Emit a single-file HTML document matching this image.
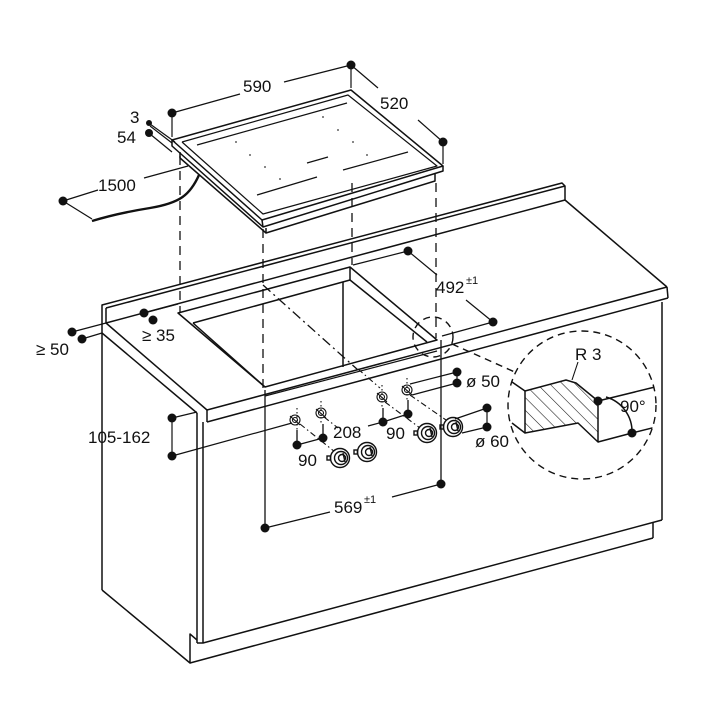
<!DOCTYPE html>
<html><head><meta charset="utf-8"><style>
html,body{margin:0;padding:0;background:#fff;}
svg{display:block}
text{font-family:"Liberation Sans",Arial,sans-serif;font-size:17px;fill:#111}
</style></head><body>
<svg width="720" height="720" viewBox="0 0 720 720" xmlns="http://www.w3.org/2000/svg">
<defs>
<pattern id="h" width="9" height="9" patternUnits="userSpaceOnUse" patternTransform="rotate(-45)">
<line x1="0" y1="0" x2="0" y2="9" stroke="#111" stroke-width="1.1"/></pattern>
<clipPath id="cc"><circle cx="582" cy="405" r="74"/></clipPath>
</defs>
<g stroke="#111" stroke-width="1.5" fill="none" stroke-linejoin="round">
<polygon points="172,140 351,90 443,166 262,220" fill="#fff"/>
<polyline points="443,166 443,171 263,227 172,146 172,140"/>
<line x1="262" y1="220" x2="263" y2="227"/>
<polyline points="182,142 348,95 437,166 263,214 182,142" stroke-width="1.2"/>
<polyline points="180,152 180,158 266,233 435,181 435,174"/>
<line x1="266" y1="228" x2="266" y2="233"/>
<line x1="197" y1="145" x2="347" y2="103" stroke-width="1.2"/>
<line x1="257" y1="195" x2="317" y2="177" stroke-width="1.2"/>
<line x1="307" y1="163" x2="328" y2="157" stroke-width="1.2"/>
<line x1="343" y1="170" x2="408" y2="152" stroke-width="1.2"/>
</g>
<g fill="#333">
<circle cx="236" cy="142" r="0.9"/><circle cx="250" cy="155" r="0.9"/><circle cx="265" cy="167" r="0.9"/><circle cx="280" cy="179" r="0.9"/>
<circle cx="323" cy="117" r="0.9"/><circle cx="338" cy="130" r="0.9"/><circle cx="353" cy="142" r="0.9"/><circle cx="367" cy="155" r="0.9"/>
</g>
<path d="M199,175 C190,195 180,203 150,208 C125,212 105,217 92,221" stroke="#111" stroke-width="2.4" fill="none"/>
<g stroke="#111" stroke-width="1.5" fill="none" stroke-linejoin="round">
<polyline points="102,590 102,305 562,183 565,186 565,200"/>
<line x1="106" y1="308" x2="565" y2="186"/>
<line x1="106" y1="308" x2="106" y2="323"/>
<line x1="106" y1="323" x2="565" y2="200"/>
<line x1="565" y1="200" x2="667" y2="287"/>
<line x1="106" y1="323" x2="207" y2="410"/>
<line x1="102" y1="333" x2="197" y2="413"/>
<line x1="207" y1="410" x2="667" y2="287"/>
<line x1="207" y1="422" x2="668" y2="298"/>
<line x1="207" y1="410" x2="207" y2="422"/>
<line x1="667" y1="287" x2="668" y2="298"/>
<polygon points="178,313 350,267 437,340 265,387"/>
<line x1="193" y1="323" x2="350" y2="280"/>
<line x1="350" y1="267" x2="350" y2="280"/>
<line x1="350" y1="280" x2="427" y2="342"/>
<line x1="343" y1="282" x2="343" y2="367"/>
<line x1="193" y1="323" x2="265" y2="387"/>
<line x1="265" y1="396" x2="437" y2="351" stroke-width="1.2"/>
<line x1="197" y1="413" x2="197" y2="643"/>
<line x1="203" y1="422" x2="203" y2="643"/>
<line x1="662" y1="302" x2="662" y2="520"/>
<polyline points="197,643 203,643 662,520"/>
<polyline points="102,590 190,663 190,634 197,640"/>
<line x1="190" y1="663" x2="653" y2="538"/>
<line x1="653" y1="523" x2="653" y2="538"/>
</g>
<g stroke="#111" stroke-width="1.3" fill="none" stroke-dasharray="9,6">
<line x1="180" y1="156" x2="180" y2="313"/>
<line x1="263" y1="229" x2="263" y2="390"/>
<line x1="352" y1="183" x2="352" y2="265"/>
<line x1="436" y1="183" x2="436" y2="338"/>
</g>
<g stroke="#111" stroke-width="1.3" fill="none">
<line x1="265" y1="390" x2="265" y2="528"/>
<line x1="441" y1="340" x2="441" y2="484"/>
<path d="M263,285 L358,370" stroke-dasharray="10,4,2,4"/>
</g>
<g stroke="#111" stroke-width="1.4" fill="none" stroke-dasharray="7,5">
<circle cx="433" cy="337" r="20"/>
<line x1="452" y1="344" x2="517" y2="373"/>
<circle cx="582" cy="405" r="74" fill="#fff"/>
</g>
<g stroke="#111" stroke-width="1.5" fill="none" stroke-linejoin="round" clip-path="url(#cc)">
<polygon points="525,391 566,380 576,383 598,401 598,442 578,423 525,433" fill="url(#h)"/>
<line x1="512" y1="382" x2="525" y2="391"/>
<line x1="512" y1="423" x2="525" y2="433"/>
<line x1="598" y1="401" x2="655" y2="387"/>
<polyline points="598,442 632,433 660,426"/>
<path d="M606,397 A36,36 0 0 1 632,433"/>
<line x1="578" y1="362" x2="572" y2="380" stroke-width="1.1"/>
</g>
<text x="575" y="360">R 3</text>
<text x="620" y="412">90°</text>
<g stroke="#111" stroke-width="1.1" fill="none">
<g stroke-dasharray="1.5,2.5">
<line x1="297" y1="408" x2="297" y2="430"/><line x1="321" y1="401" x2="321" y2="424"/>
<line x1="382" y1="385" x2="382" y2="408"/><line x1="407" y1="378" x2="407" y2="400"/>
</g>
<g stroke-dasharray="6,3,1.5,3">
<line x1="300" y1="424" x2="335" y2="452"/><line x1="324" y1="417" x2="338" y2="428"/>
<line x1="385" y1="402" x2="420" y2="428"/><line x1="410" y1="395" x2="446" y2="420"/>
<line x1="358" y1="369" x2="380" y2="388"/>
</g>
<g stroke-width="1.3">
<line x1="297" y1="430" x2="297" y2="445"/><line x1="323" y1="424" x2="323" y2="438"/>
<line x1="383" y1="408" x2="383" y2="422"/><line x1="408" y1="400" x2="408" y2="414"/>
</g>
<g id="s"><circle cx="295" cy="420" r="5"/><circle cx="295" cy="420" r="2.5"/><line x1="290" y1="416" x2="300" y2="425"/></g>
<use href="#s" x="26" y="-7"/><use href="#s" x="87" y="-23"/><use href="#s" x="112" y="-30"/>
<g id="k" stroke-width="1.4"><circle cx="340" cy="458" r="9.5" fill="#fff"/><circle cx="341" cy="458" r="6.5"/><circle cx="342" cy="458" r="3.5"/><line x1="343" y1="453" x2="345" y2="462"/><rect x="327" y="456" width="3.5" height="4"/></g>
<use href="#k" x="27" y="-6"/><use href="#k" x="87" y="-25"/><use href="#k" x="113" y="-31"/>
</g>
<g stroke="#111" stroke-width="1.2" fill="none">
<line x1="172" y1="113" x2="172" y2="137"/>
<line x1="172" y1="113" x2="240" y2="94"/><line x1="284" y1="82" x2="351" y2="65"/>
<line x1="351" y1="65" x2="351" y2="88"/>
<line x1="351" y1="65" x2="378" y2="88"/><line x1="418" y1="120" x2="443" y2="142"/>
<line x1="443" y1="142" x2="443" y2="164"/>
<line x1="150" y1="124" x2="175" y2="142"/><line x1="150" y1="126" x2="172" y2="143"/>
<line x1="150" y1="134" x2="172" y2="152"/>
<line x1="63" y1="201" x2="98" y2="190"/><line x1="144" y1="178" x2="188" y2="166"/>
<line x1="63" y1="201" x2="92" y2="219"/>
<line x1="72" y1="332" x2="106" y2="323"/><line x1="82" y1="339" x2="102" y2="333"/>
<line x1="144" y1="313" x2="178" y2="304"/>
<line x1="408" y1="251" x2="353" y2="265"/>
<line x1="408" y1="251" x2="437" y2="275"/><line x1="466" y1="300" x2="493" y2="322"/>
<line x1="493" y1="322" x2="442" y2="336"/>
<line x1="172" y1="418" x2="197" y2="412"/><line x1="172" y1="456" x2="292" y2="423"/>
<line x1="172" y1="418" x2="172" y2="456"/>
<line x1="297" y1="445" x2="323" y2="438"/>
<line x1="383" y1="422" x2="368" y2="426"/><line x1="383" y1="422" x2="408" y2="414"/>
<line x1="410" y1="384" x2="457" y2="372"/><line x1="412" y1="395" x2="457" y2="383"/>
<line x1="457" y1="372" x2="457" y2="383"/>
<line x1="455" y1="419" x2="487" y2="408"/><line x1="462" y1="433" x2="487" y2="427"/>
<line x1="487" y1="408" x2="487" y2="427"/>
<line x1="265" y1="528" x2="330" y2="512"/><line x1="392" y1="497" x2="441" y2="484"/>
</g>
<g fill="#111">
<circle cx="351" cy="65" r="4.5"/><circle cx="172" cy="113" r="4.5"/><circle cx="443" cy="142" r="4.5"/>
<circle cx="149" cy="123" r="3"/><circle cx="149" cy="133" r="4"/>
<circle cx="63" cy="201" r="4.5"/>
<circle cx="72" cy="332" r="4.5"/><circle cx="82" cy="339" r="4.5"/>
<circle cx="144" cy="313" r="4.5"/><circle cx="153" cy="320" r="4.5"/>
<circle cx="408" cy="251" r="4.5"/><circle cx="493" cy="322" r="4.5"/>
<circle cx="172" cy="418" r="4.5"/><circle cx="172" cy="456" r="4.5"/>
<circle cx="297" cy="445" r="4.5"/><circle cx="323" cy="438" r="4.5"/>
<circle cx="383" cy="422" r="4.5"/><circle cx="408" cy="414" r="4.5"/>
<circle cx="457" cy="372" r="4.5"/><circle cx="457" cy="383" r="4.5"/>
<circle cx="487" cy="408" r="4.5"/><circle cx="487" cy="427" r="4.5"/>
<circle cx="265" cy="528" r="4.5"/><circle cx="441" cy="484" r="4.5"/>
<circle cx="598" cy="401" r="4.5"/><circle cx="632" cy="433" r="4.5"/>
</g>
<text x="243" y="92">590</text>
<text x="380" y="109">520</text>
<text x="130" y="123">3</text>
<text x="117" y="143">54</text>
<text x="98" y="191">1500</text>
<text x="436" y="293">492</text><text x="466" y="284" style="font-size:11px">±1</text>
<text x="36" y="355">≥ 50</text>
<text x="142" y="341">≥ 35</text>
<text x="88" y="443">105-162</text>
<text x="333" y="438">208</text>
<text x="298" y="466">90</text>
<text x="386" y="439">90</text>
<text x="466" y="387">ø 50</text>
<text x="475" y="447">ø 60</text>
<text x="334" y="513">569</text><text x="364" y="503" style="font-size:11px">±1</text>
</svg>
</body></html>
